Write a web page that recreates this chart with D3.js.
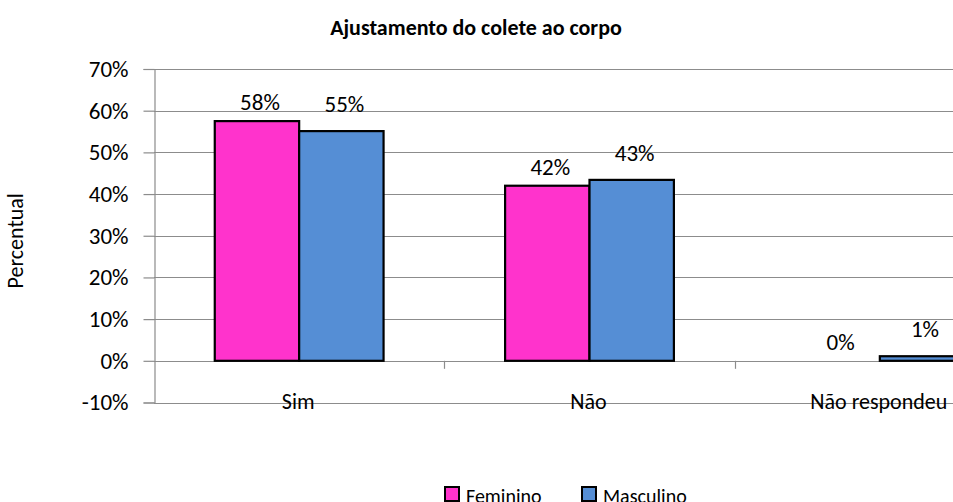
<!DOCTYPE html>
<html>
<head>
<meta charset="utf-8">
<script src="https://cdn.jsdelivr.net/npm/d3@7"></script>
<style>
  body { margin: 0; background: #fff; overflow: hidden; }
  text { font-family: Carlito, Calibri, Lato, sans-serif; fill: #000; }
</style>
</head>
<body>
<div id="fig"></div>
<script>
// data (percent)
var categories = ["Sim", "Não", "Não respondeu"];
var seriesNames = ["Feminino", "Masculino"];
var feminino = [57.5, 42.0, 0];
var masculino = [55.1, 43.4, 1.1];
var yTicks = [-10, 0, 10, 20, 30, 40, 50, 60, 70];
var colors = ["#ff33cc", "#558ed5"];

var W = 953, H = 502;
// plot box (right side runs past the window, like the reference)
var plotL = 154, plotR = 1025, plotT = 69, plotB = 402.5;

var svg = d3.select("#fig").append("svg")
    .attr("width", W)
    .attr("height", H);

var y = d3.scaleLinear().domain([-10, 70]).range([plotB, plotT]);
var x0 = d3.scaleBand().domain(categories).range([plotL, plotR]);
var x1 = d3.scaleBand().domain(seriesNames)
    .range([0, x0.bandwidth()])
    .paddingOuter(0.72);

// gridlines
svg.append("g").selectAll("line")
  .data(yTicks)
  .enter().append("line")
    .attr("x1", plotL).attr("x2", plotR)
    .attr("y1", function(d) { return Math.round(y(d)) + 0.5; })
    .attr("y2", function(d) { return Math.round(y(d)) + 0.5; })
    .attr("stroke", "#8c8c8c")
    .attr("stroke-width", 1.2);

// y axis
var yAxis = svg.append("g")
    .attr("transform", "translate(" + (plotL + 0.5) + ",0)")
    .call(d3.axisLeft(y)
      .tickValues(yTicks)
      .tickSize(11)
      .tickPadding(15)
      .tickFormat(function(d) { return d + "%"; }));
yAxis.select(".domain").attr("stroke", "#8c8c8c").attr("stroke-width", 1.2);
yAxis.selectAll(".tick line").attr("stroke", "#8c8c8c").attr("stroke-width", 1.2);
yAxis.selectAll(".tick text")
    .attr("font-family", "Carlito, Calibri, Lato, sans-serif")
    .attr("font-size", 23)
    .attr("fill", "#222");

// category tick marks on the zero line
svg.append("g").selectAll("line")
  .data(categories.slice(1))
  .enter().append("line")
    .attr("x1", function(d) { return Math.round(x0(d)) + 0.5; })
    .attr("x2", function(d) { return Math.round(x0(d)) + 0.5; })
    .attr("y1", y(0)).attr("y2", y(0) + 8)
    .attr("stroke", "#8c8c8c")
    .attr("stroke-width", 1.2);

// bars
var rows = categories.map(function(c, i) {
  return { cat: c, vals: [feminino[i], masculino[i]] };
});
var labelGap = [11, 19];

var groups = svg.append("g").selectAll("g")
  .data(rows)
  .enter().append("g")
    .attr("transform", function(d) { return "translate(" + x0(d.cat) + ",0)"; });

groups.selectAll("rect")
  .data(function(d) {
    return d.vals.map(function(v, j) { return { s: seriesNames[j], v: v, j: j }; });
  })
  .enter().filter(function(d) { return d.v > 0; }).append("rect")
    .attr("x", function(d) { return x1(d.s); })
    .attr("y", function(d) { return y(d.v); })
    .attr("width", x1.bandwidth())
    .attr("height", function(d) { return y(0) - y(d.v); })
    .attr("fill", function(d) { return colors[d.j]; })
    .attr("stroke", "#000")
    .attr("stroke-width", 2.2);

groups.selectAll("text")
  .data(function(d) {
    return d.vals.map(function(v, j) { return { s: seriesNames[j], v: v, j: j }; });
  })
  .enter().append("text")
    .attr("x", function(d) { return x1(d.s) + x1.bandwidth() / 2 + 3; })
    .attr("y", function(d) { return y(d.v) - labelGap[d.j]; })
    .attr("text-anchor", "middle")
    .attr("font-size", 23)
    .attr("fill", "#222")
    .text(function(d) { return Math.round(d.v) + "%"; });

// category labels, sitting on the bottom gridline
svg.append("g").selectAll("text")
  .data(categories)
  .enter().append("text")
    .attr("x", function(d) { return x0(d) + x0.bandwidth() / 2 - 1; })
    .attr("y", plotB + 6)
    .attr("text-anchor", "middle")
    .attr("font-size", 22)
    .text(function(d) { return d; });

// title
svg.append("text")
    .attr("x", 476)
    .attr("y", 35)
    .attr("text-anchor", "middle")
    .attr("font-size", 22)
    .attr("font-weight", "bold")
    .text("Ajustamento do colete ao corpo");

// y axis title
svg.append("text")
    .attr("transform", "translate(23," + ((plotT + plotB) / 2 + 5) + ") rotate(-90)")
    .attr("text-anchor", "middle")
    .attr("font-size", 22)
    .text("Percentual");

// legend
var legendX = [445, 582];
var legend = svg.append("g").selectAll("g")
  .data(seriesNames)
  .enter().append("g")
    .attr("transform", function(d, i) { return "translate(" + legendX[i] + ",487)"; });
legend.append("rect")
    .attr("width", 14).attr("height", 14)
    .attr("fill", function(d, i) { return colors[i]; })
    .attr("stroke", "#000")
    .attr("stroke-width", 2);
legend.append("text")
    .attr("x", 21)
    .attr("y", 16)
    .attr("font-size", 20)
    .text(function(d) { return d; });
</script>
</body>
</html>
